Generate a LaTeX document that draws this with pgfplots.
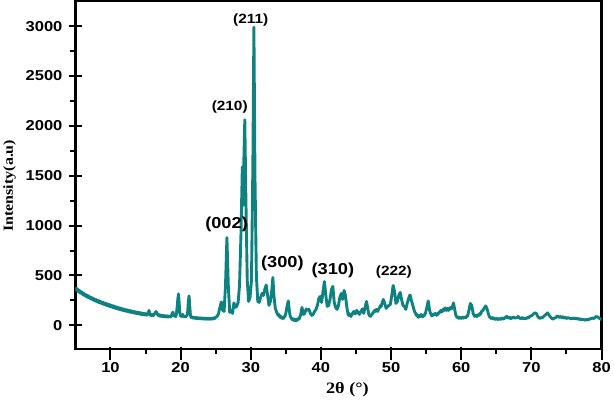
\documentclass[border=0pt]{standalone}
\usepackage{fontspec}
\usepackage{pgfplots}
\usepackage{pgfplotstable}
\pgfplotsset{compat=1.18}
\setmainfont{Liberation Serif}[FakeStretch=1.15]
\newfontfamily\ticksf{Liberation Sans}[FakeStretch=1.15]
\definecolor{xrdteal}{RGB}{14,130,128}
\pgfplotstableread{
x y
5.0 380
5.1 352
5.2 372
5.3 345
5.4 360
5.5 332
5.6 350
5.7 322
5.8 340
5.9 318
6.0 330
6.1 305
6.2 322
6.3 298
6.4 312
6.5 290
6.6 306
6.7 282
6.8 298
6.9 276
7.0 290
7.1 268
7.2 282
7.3 262
7.4 276
7.5 255
7.6 270
7.7 248
7.8 262
7.9 242
8.0 258
8.1 236
8.2 252
8.3 230
8.4 246
8.5 224
8.6 240
8.7 220
8.8 234
8.9 214
9.0 230
9.1 208
9.2 224
9.3 204
9.4 220
9.5 198
9.6 214
9.7 194
9.8 210
9.9 188
10.0 205
10.1 184
10.2 200
10.3 180
10.4 196
10.5 174
10.6 192
10.7 170
10.8 186
10.9 166
11.0 182
11.1 162
11.2 178
11.3 158
11.4 174
11.5 154
11.6 170
11.7 150
11.8 166
11.9 147
12.0 162
12.1 143
12.2 158
12.3 140
12.4 155
12.5 136
12.6 152
12.7 133
12.8 148
12.9 130
13.0 145
13.1 127
13.2 142
13.3 124
13.4 139
13.5 121
13.6 136
13.7 118
13.8 133
13.9 116
14.0 130
14.1 113
14.2 128
14.3 110
14.4 125
14.5 108
14.6 122
14.7 106
14.8 120
14.9 104
15.0 118
15.1 102
15.2 116
15.3 105
15.4 130
15.5 150
15.6 118
15.7 100
15.8 112
15.9 96
16.0 110
16.1 98
16.2 106
16.3 118
16.4 130
16.5 138
16.6 128
16.7 110
16.8 100
16.9 108
17.0 92
17.1 104
17.2 90
17.3 102
17.4 88
17.5 100
17.6 86
17.7 98
17.8 85
17.9 96
18.0 84
18.1 95
18.2 82
18.3 94
18.4 86
18.5 92
18.6 84
18.7 100
18.8 120
18.9 132
19.0 110
19.1 92
19.2 96
19.3 88
19.4 110
19.5 180
19.6 260
19.7 315
19.8 220
19.9 120
20.0 92
20.1 100
20.2 88
20.3 110
20.4 94
20.5 86
20.6 92
20.7 84
20.8 90
20.9 100
21.0 130
21.1 230
21.2 295
21.3 200
21.4 100
21.5 80
21.6 86
21.7 74
21.8 82
21.9 72
22.0 80
22.1 70
22.2 78
22.3 68
22.4 77
22.5 67
22.6 76
22.7 66
22.8 75
22.9 65
23.0 74
23.1 64
23.2 73
23.3 63
23.4 72
23.5 62
23.6 72
23.7 62
23.8 71
23.9 61
24.0 70
24.1 62
24.2 72
24.3 61
24.4 70
24.5 63
24.6 74
24.7 64
24.8 76
24.9 70
25.0 82
25.2 90
25.4 115
25.6 180
25.8 235
26.0 150
26.2 140
26.4 400
26.6 880
26.8 400
27.0 130
27.2 150
27.4 120
27.6 225
27.8 180
28.0 190
28.2 230
28.4 400
28.6 900
28.8 1590
28.9 1200
29.0 1600
29.15 2060
29.3 1300
29.5 450
29.7 240
29.9 280
30.1 450
30.3 1600
30.45 2990
30.6 1500
30.8 500
31.0 240
31.2 230
31.4 280
31.6 320
31.8 300
32.0 360
32.2 405
32.4 300
32.6 200
32.8 240
33.0 350
33.15 480
33.3 300
33.5 170
33.7 130
33.9 100
34.0 110
34.1 85
34.2 95
34.3 75
34.4 85
34.5 68
34.6 80
34.7 70
34.8 88
34.9 95
35.0 120
35.2 200
35.35 245
35.5 150
35.6 100
35.7 80
35.8 70
35.9 58
36.0 68
36.1 50
36.2 62
36.3 48
36.4 60
36.5 46
36.6 62
36.7 55
36.8 70
36.9 64
37.0 85
37.1 100
37.3 180
37.5 110
37.7 120
37.9 165
38.1 150
38.3 160
38.5 120
38.7 100
38.9 110
39.1 140
39.3 160
39.5 200
39.7 270
39.9 290
40.1 230
40.3 340
40.5 440
40.7 300
40.9 190
41.1 200
41.3 260
41.5 360
41.7 390
41.9 230
42.1 180
42.3 160
42.5 200
42.7 280
42.9 320
43.1 260
43.3 350
43.5 300
43.7 180
43.9 100
44.0 120
44.1 105
44.2 95
44.3 90
44.4 110
44.5 120
44.6 130
44.7 140
44.8 120
44.9 115
45.0 135
45.1 150
45.2 140
45.3 130
45.4 118
45.5 110
45.6 128
45.7 140
45.8 150
45.9 165
46.0 140
46.1 120
46.3 180
46.5 240
46.7 160
46.8 120
46.9 100
47.0 95
47.1 90
47.2 105
47.3 110
47.4 125
47.5 130
47.6 145
47.7 150
47.8 140
47.9 160
48.0 150
48.1 140
48.2 160
48.3 170
48.4 185
48.5 200
48.6 190
48.7 220
48.9 260
49.1 220
49.3 170
49.5 190
49.7 200
49.9 210
50.1 300
50.3 400
50.5 340
50.7 220
50.9 240
51.1 300
51.3 330
51.5 260
51.7 200
51.9 190
52.1 160
52.3 220
52.5 270
52.7 305
52.9 250
53.1 200
53.3 150
53.4 130
53.5 120
53.6 100
53.7 110
53.8 90
53.9 80
54.0 95
54.1 100
54.2 90
54.3 110
54.4 95
54.5 85
54.6 100
54.7 95
54.8 110
54.9 120
55.1 180
55.3 245
55.5 150
55.6 125
55.7 110
55.8 95
55.9 100
56.0 112
56.1 115
56.2 105
56.3 120
56.4 110
56.5 100
56.6 118
56.7 110
56.8 125
56.9 135
57.0 130
57.1 150
57.2 135
57.3 140
57.4 158
57.5 165
57.6 150
57.7 175
57.8 160
57.9 150
58.0 165
58.1 170
58.2 150
58.3 160
58.4 172
58.5 180
58.6 165
58.7 175
58.9 225
59.1 150
59.2 110
59.3 90
59.4 82
59.5 75
59.6 85
59.7 70
59.8 78
59.9 80
60.0 70
60.1 75
60.2 82
60.3 72
60.4 80
60.5 85
60.6 76
60.7 80
60.8 95
60.9 90
61.1 150
61.3 220
61.5 200
61.7 120
61.9 90
62.1 100
62.2 88
62.3 95
62.4 105
62.5 110
62.6 100
62.7 120
62.8 115
62.9 140
63.1 150
63.3 175
63.5 195
63.7 160
63.9 110
64.0 90
64.1 80
64.2 72
64.3 70
64.4 78
64.5 65
64.6 74
64.7 72
64.8 62
64.9 60
65.0 70
65.1 68
65.2 60
65.3 58
65.4 66
65.5 70
65.6 60
65.7 62
65.8 72
65.9 75
66.0 66
66.1 64
66.2 74
66.3 80
66.4 85
66.5 90
66.6 78
66.7 70
66.8 76
66.9 82
67.0 72
67.1 66
67.2 74
67.3 78
67.4 80
67.5 85
67.6 76
67.7 70
67.8 78
67.9 72
68.0 80
68.1 90
68.2 82
68.3 75
68.4 70
68.5 68
68.6 74
68.7 80
68.8 72
68.9 65
69.0 70
69.1 72
69.2 66
69.3 70
69.4 76
69.5 80
69.6 75
69.7 85
69.8 90
69.9 95
70.0 92
70.1 100
70.3 115
70.5 125
70.7 120
70.9 90
71.0 82
71.1 75
71.2 70
71.3 80
71.4 76
71.5 72
71.6 80
71.7 85
71.8 92
71.9 100
72.1 110
72.3 125
72.5 105
72.7 85
72.8 78
72.9 70
73.0 66
73.1 62
73.2 70
73.3 75
73.4 72
73.5 80
73.6 88
73.7 95
73.8 90
73.9 85
74.0 80
74.1 90
74.2 86
74.3 80
74.4 76
74.5 85
74.6 78
74.7 72
74.8 76
74.9 80
75.0 72
75.1 70
75.2 75
75.3 78
75.4 70
75.5 74
75.6 68
75.7 65
75.8 72
75.9 70
76.0 66
76.1 75
76.2 70
76.3 68
76.4 64
76.5 72
76.6 66
76.7 60
76.8 64
76.9 68
77.0 60
77.1 55
77.2 60
77.3 62
77.4 56
77.5 58
77.6 54
77.7 52
77.8 58
77.9 60
78.0 55
78.1 56
78.2 60
78.3 62
78.4 66
78.5 70
78.6 68
78.7 75
78.8 72
78.9 68
79.0 74
79.1 80
79.2 86
79.3 90
79.4 82
79.5 85
79.6 76
79.7 70
79.8 66
79.9 62
80.0 60
}\xrd
\begin{document}
\begin{tikzpicture}
\begin{axis}[
  scale only axis,
  width=529bp, height=350bp,
  xmin=5, xmax=80, ymin=-240, ymax=3250,
  xtick={10,20,...,80},
  ytick={0,500,...,3000},
  minor x tick num=1,
  minor y tick num=1,
  xtick pos=bottom, ytick pos=left,
  tick align=center,
  major tick length=13bp,
  minor tick length=5bp,
  every tick/.style={black, line width=2bp},
  major x tick style={yshift=-4.5bp},
  minor x tick style={yshift=-2.5bp},
  minor y tick style={xshift=-2.5bp},
  axis line style={line width=2.4bp},
  /pgf/number format/assume math mode=true,
  /pgf/number format/1000 sep={},
  ticklabel style={font=\ticksf\bfseries\fontsize{14.5}{16}\selectfont},
  yticklabel style={xshift=-3bp},
  xticklabel style={yshift=-3bp},
  xlabel={2θ (°)},
  ylabel={Intensity(a.u)},
  xlabel style={font=\bfseries\fontsize{16}{18}\selectfont, at={(axis description cs:0.517,-0.117)}, anchor=center},
  ylabel style={font=\bfseries\fontsize{14}{16}\selectfont, at={(axis description cs:-0.125,0.47)}, anchor=center, rotate=0},
  clip=true,
]
\addplot[xrdteal, line width=2.9bp, line join=round] table[x=x,y=y] {\xrd};
\node[font=\ticksf\bfseries\fontsize{13.5}{15}\selectfont] at (axis cs:30.0,3060) {(211)};
\node[font=\ticksf\bfseries\fontsize{13.5}{15}\selectfont] at (axis cs:27.0,2190) {(210)};
\node[font=\ticksf\bfseries\fontsize{16}{18}\selectfont] at (axis cs:26.55,1017) {(002)};
\node[font=\ticksf\bfseries\fontsize{16}{18}\selectfont] at (axis cs:34.5,620) {(300)};
\node[font=\ticksf\bfseries\fontsize{16}{18}\selectfont] at (axis cs:41.7,550) {(310)};
\node[font=\ticksf\bfseries\fontsize{13.5}{15}\selectfont] at (axis cs:50.4,530) {(222)};
\end{axis}
\end{tikzpicture}
\end{document}
